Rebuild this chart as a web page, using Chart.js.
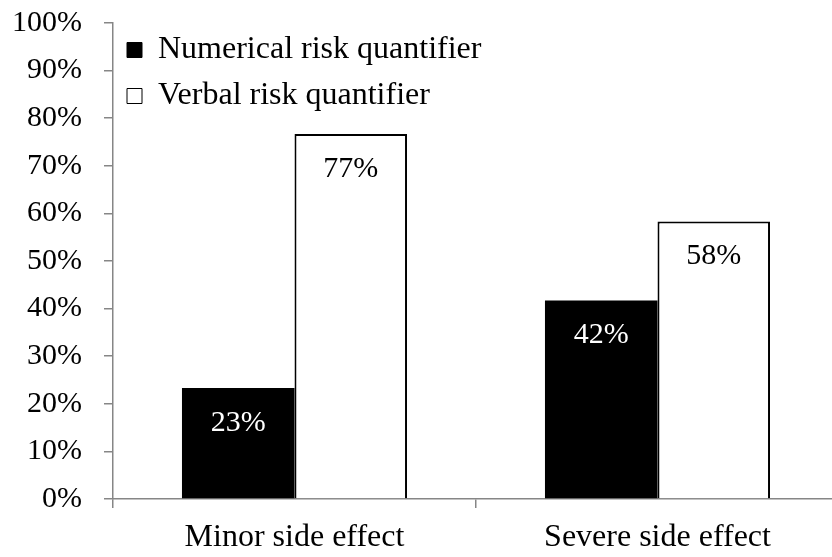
<!DOCTYPE html>
<html>
<head>
<meta charset="utf-8">
<script src="https://cdn.jsdelivr.net/npm/chart.js@4/dist/chart.umd.min.js"></script>
<style>
  html, body { margin: 0; padding: 0; background: #fff; overflow: hidden; }
  #wrap { width: 842px; height: 557px; }
</style>
</head>
<body>
<div id="wrap"><canvas id="c"></canvas></div>
<script>
const categories = ['Minor side effect', 'Severe side effect'];
const seriesNames = ['Numerical risk quantifier', 'Verbal risk quantifier'];
const numericalValues = [23.3, 41.7];
const verbalValues = [76.7, 58.3];
const yTicks = [0, 10, 20, 30, 40, 50, 60, 70, 80, 90, 100];

const FONT = "'Liberation Serif', 'Times New Roman', serif";
const AXIS_GREY = '#868686';

// Percent labels inside each bar, near its top edge
const barValueLabels = {
  id: 'barValueLabels',
  afterDatasetsDraw(chart) {
    const ctx = chart.ctx;
    ctx.save();
    ctx.font = '30px ' + FONT;
    ctx.textAlign = 'center';
    ctx.textBaseline = 'middle';
    chart.data.datasets.forEach((ds, di) => {
      const meta = chart.getDatasetMeta(di);
      meta.data.forEach((bar, i) => {
        const v = ds.data[i];
        ctx.fillStyle = di === 0 ? '#ffffff' : '#000000';
        ctx.fillText(Math.round(v) + '%', bar.x, bar.y + 35);
      });
    });
    ctx.restore();
  }
};

// Place the in-plot legend at the top-left corner of the plot area
const legendPlacement = {
  id: 'legendPlacement',
  afterLayout(chart) {
    const lg = chart.legend;
    if (!lg) return;
    const h = lg.bottom - lg.top;
    const w = lg.right - lg.left;
    lg.top = chart.chartArea.top - 3;
    lg.bottom = lg.top + h;
    lg.left = chart.chartArea.left;
    lg.right = lg.left + w;
  }
};

new Chart(document.getElementById('c'), {
  type: 'bar',
  data: {
    labels: categories,
    datasets: [
      {
        label: seriesNames[0],
        data: numericalValues,
        backgroundColor: '#000000',
        borderColor: '#000000',
        borderWidth: 0
      },
      {
        label: seriesNames[1],
        data: verbalValues,
        backgroundColor: '#ffffff',
        borderColor: '#000000',
        borderWidth: 2,
        borderSkipped: 'bottom'
      }
    ]
  },
  options: {
    responsive: true,
    maintainAspectRatio: false,
    animation: false,
    devicePixelRatio: 1,
    layout: { padding: { left: 12, right: 3, top: 23, bottom: 2 } },
    datasets: { bar: { categoryPercentage: 0.62, barPercentage: 1.0 } },
    plugins: {
      legend: {
        position: 'chartArea',
        align: 'start',
        labels: {
          font: { family: FONT, size: 32 },
          color: '#000',
          boxWidth: 15,
          boxHeight: 15,
          padding: 14,
          generateLabels(chart) {
            return chart.data.datasets.map((ds, i) => ({
              text: ds.label,
              fillStyle: ds.backgroundColor,
              strokeStyle: '#000000',
              lineWidth: 1,
              hidden: false,
              datasetIndex: i,
              fontColor: '#000'
            }));
          }
        }
      },
      tooltip: { enabled: false }
    },
    scales: {
      x: {
        offset: true,
        afterFit(scale) {
          scale.height = 56;
        },
        grid: {
          offset: true,
          drawOnChartArea: false,
          drawTicks: true,
          tickLength: 9,
          color: AXIS_GREY,
          lineWidth: 1.5
        },
        border: { color: AXIS_GREY, width: 1.5 },
        ticks: {
          font: { family: FONT, size: 32 },
          color: '#000',
          padding: 10,
          maxRotation: 0
        }
      },
      y: {
        min: 0,
        max: 100,
        afterBuildTicks(scale) {
          scale.ticks = yTicks.map(v => ({ value: v }));
        },
        afterFit(scale) {
          scale.width = 101;
          scale.paddingTop = 18;
          scale.paddingBottom = 18;
        },
        grid: {
          drawOnChartArea: false,
          drawTicks: true,
          tickLength: 9,
          color: AXIS_GREY,
          lineWidth: 1.5
        },
        border: { color: AXIS_GREY, width: 1.5 },
        ticks: {
          font: { family: FONT, size: 30 },
          color: '#000',
          padding: 22,
          callback: v => v + '%'
        }
      }
    }
  },
  plugins: [barValueLabels, legendPlacement]
});
</script>
</body>
</html>
